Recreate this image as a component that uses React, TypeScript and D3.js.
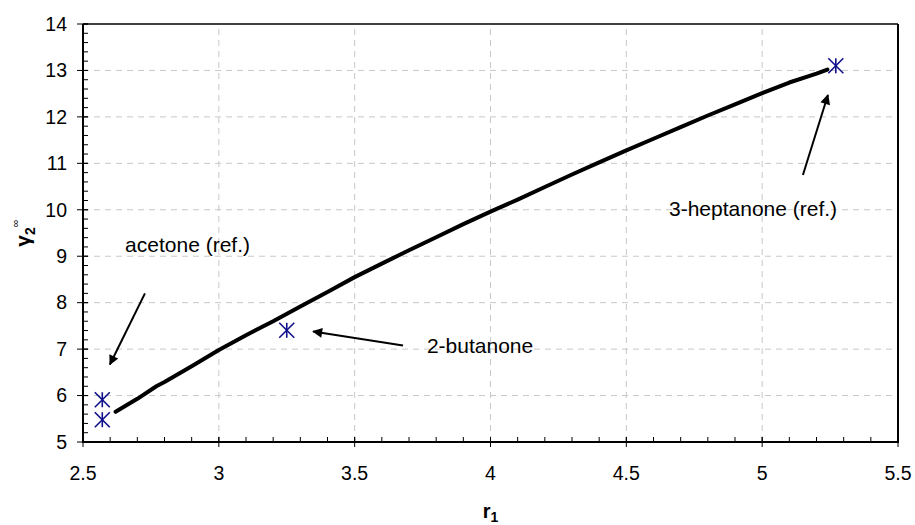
import React from 'react'
import * as d3 from 'd3'

// curve r1 -> gamma2 infinity
const curveR = [2.62, 2.7, 2.77, 2.8, 2.9, 3.0, 3.1, 3.2, 3.3, 3.4, 3.5, 3.6, 3.7, 3.8, 3.9, 4.0, 4.1, 4.2, 4.3, 4.4, 4.5, 4.6, 4.7, 4.8, 4.9, 5.0, 5.1, 5.2, 5.24]
const curveG = [5.65, 5.93, 6.2, 6.29, 6.63, 6.98, 7.3, 7.6, 7.92, 8.23, 8.55, 8.84, 9.13, 9.41, 9.69, 9.96, 10.22, 10.49, 10.76, 11.02, 11.28, 11.53, 11.78, 12.03, 12.27, 12.51, 12.74, 12.93, 13.02]

// measured points
const pointR = [2.571, 2.571, 3.25, 5.271]
const pointG = [5.91, 5.48, 7.405, 13.1]

// annotations: label, arrow start, arrow tip
const noteLabels = ['acetone (ref.)', '2-butanone', '3-heptanone (ref.)']
const noteTextR = [2.655, 3.766, 4.657]
const noteTextG = [9.09, 6.91, 9.873]
const arrowFromR = [2.728, 3.678, 5.15]
const arrowFromG = [8.2, 7.08, 10.75]
const arrowToR = [2.599, 3.347, 5.242]
const arrowToG = [6.67, 7.38, 12.47]

const xTickLabels = ['2.5', '3', '3.5', '4', '4.5', '5', '5.5']
const yTickLabels = ['5', '6', '7', '8', '9', '10', '11', '12', '13', '14']

const W = 915
const H = 525
const margin = { top: 24, right: 17, bottom: 83, left: 83 }
const font = '"Liberation Sans", Arial, sans-serif'

const App = () => {
  const x = d3.scaleLinear().domain([2.5, 5.5]).range([margin.left, W - margin.right])
  const y = d3.scaleLinear().domain([5, 14]).range([H - margin.bottom, margin.top])
  const x0 = x.range()[0]
  const x1 = x.range()[1]
  const y0 = y.range()[0]
  const y1 = y.range()[1]

  const xMajor = xTickLabels.map(Number)
  const yMajor = yTickLabels.map(Number)
  const xMinor = d3.range(25, 56).map((d) => d / 10)
  const yMinor = d3.range(25, 71).map((d) => d / 5)

  const line = d3
    .line<number>()
    .x((d, i) => x(curveR[i]))
    .y((d, i) => y(curveG[i]))
  const navy = '#10108a'
  const s = 7.5

  return (
    <svg width={W} height={H} style={{ position: 'absolute', left: 0, top: 0, display: 'block', background: '#fff' }}>
      <defs>
        <marker id='head' viewBox='0 0 10 10' refX='9' refY='5' markerWidth='5.5' markerHeight='5' orient='auto' markerUnits='strokeWidth'>
          <path d='M0,0 L10,5 L0,10 z' fill='#000' />
        </marker>
      </defs>
      {/* grid */}
      <g stroke='#c8c8c8' strokeWidth={1} strokeDasharray='6 5'>
        {xMajor.slice(1, -1).map((d) => (
          <line key={'gx' + d} x1={x(d)} x2={x(d)} y1={y0} y2={y1} />
        ))}
        {yMajor.slice(1, -1).map((d) => (
          <line key={'gy' + d} x1={x0} x2={x1} y1={y(d)} y2={y(d)} />
        ))}
      </g>
      {/* frame */}
      <line x1={x0} x2={x1} y1={y1} y2={y1} stroke='#000' strokeWidth={1.5} />
      <line x1={x1} x2={x1} y1={y1} y2={y0} stroke='#000' strokeWidth={2} />
      {/* ticks */}
      <g stroke='#000' strokeWidth={1}>
        {xMinor.map((d) => (
          <line key={'mx' + d} x1={x(d)} x2={x(d)} y1={y0} y2={y0 - 5} />
        ))}
        {yMinor.map((d) => (
          <line key={'my' + d} x1={x0} x2={x0 + 5} y1={y(d)} y2={y(d)} />
        ))}
        {xMajor.map((d) => (
          <line key={'Mx' + d} x1={x(d)} x2={x(d)} y1={y0 - 5} y2={y0 + 5} />
        ))}
        {yMajor.map((d) => (
          <line key={'My' + d} x1={x0 - 6} x2={x0 + 5} y1={y(d)} y2={y(d)} />
        ))}
      </g>
      {/* axes */}
      <line x1={x0} x2={x0} y1={y0 + 1} y2={y1} stroke='#000' strokeWidth={2} />
      <line x1={x0 - 1} x2={x1 + 1} y1={y0} y2={y0} stroke='#000' strokeWidth={2} />
      {/* tick labels */}
      <g fontFamily={font} fontSize={19.5} fill='#000'>
        {xMajor.map((d, i) => (
          <text key={'tx' + d} x={x(d)} y={y0 + 38} textAnchor='middle'>
            {xTickLabels[i]}
          </text>
        ))}
        {yMajor.map((d, i) => (
          <text key={'ty' + d} x={x0 - 16} y={y(d)} dy='0.35em' textAnchor='end'>
            {yTickLabels[i]}
          </text>
        ))}
      </g>
      {/* curve */}
      <path d={line(curveR) || ''} fill='none' stroke='#000' strokeWidth={4} strokeLinejoin='round' strokeLinecap='round' />
      {/* points */}
      <g stroke={navy} strokeWidth={1.6}>
        {pointR.map((d, i) => {
          const cx = x(d)
          const cy = y(pointG[i])
          return (
            <g key={'p' + i}>
              <line x1={cx - s} x2={cx + s} y1={cy - s} y2={cy + s} />
              <line x1={cx - s} x2={cx + s} y1={cy + s} y2={cy - s} />
              <line x1={cx} x2={cx} y1={cy - s} y2={cy + s} />
            </g>
          )
        })}
      </g>
      {/* annotations */}
      <g stroke='#000' strokeWidth={2}>
        {noteLabels.map((d, i) => (
          <line
            key={'a' + i}
            x1={x(arrowFromR[i])}
            y1={y(arrowFromG[i])}
            x2={x(arrowToR[i])}
            y2={y(arrowToG[i])}
            markerEnd='url(#head)'
          />
        ))}
      </g>
      <g fontFamily={font} fontSize={21} fill='#000'>
        {noteLabels.map((d, i) => (
          <text key={'n' + i} x={x(noteTextR[i])} y={y(noteTextG[i])}>
            {d}
          </text>
        ))}
      </g>
      {/* axis titles */}
      <text x={(x0 + x1) / 2} y={518} textAnchor='middle' fontFamily={font} fontSize={20} fontWeight='bold'>
        r<tspan fontSize={14} dy={4}>1</tspan>
      </text>
      <text
        transform={`translate(30, ${(y0 + y1) / 2}) rotate(-90)`}
        textAnchor='middle'
        fontFamily={font}
        fontSize={21}
        fontWeight='bold'
      >
        γ<tspan fontSize={14} dy={5}>2</tspan>
        <tspan fontSize={11} fontWeight='normal' dy={-16}>∞</tspan>
      </text>
    </svg>
  )
}

export default App
